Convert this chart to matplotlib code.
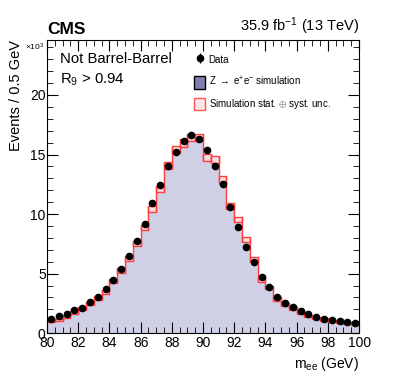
import numpy as np
import matplotlib
matplotlib.use("Agg")
import matplotlib.pyplot as plt
from matplotlib.patches import Rectangle, Patch
from matplotlib.ticker import MultipleLocator

plt.rcParams['font.family'] = ['Liberation Sans', 'DejaVu Sans']
plt.rcParams['mathtext.fontset'] = 'custom'
plt.rcParams['mathtext.rm'] = 'Liberation Sans'
plt.rcParams['mathtext.it'] = 'Liberation Sans'

# 0.5 GeV bins from 80 to 100 GeV, counts in units of 10^3
bin_edges = np.arange(80.0, 100.01, 0.5)
data = [1.19, 1.41, 1.62, 1.91, 2.11, 2.59, 3.07, 3.69, 4.43, 5.40,
        6.44, 7.71, 9.15, 10.9, 12.48, 14.0, 15.2, 16.1, 16.6, 16.3,
        15.4, 14.0, 12.5, 10.6, 8.9, 7.2, 5.97, 4.7, 3.89, 3.03,
        2.55, 2.16, 1.85, 1.57, 1.34, 1.2, 1.09, 0.98, 0.9, 0.82]
mc = [1.07, 1.09, 1.41, 1.72, 2.09, 2.46, 2.94, 3.47, 4.35, 5.25,
      6.24, 7.5, 8.87, 10.4, 12.1, 14.1, 15.45, 15.96, 16.4, 16.45,
      14.75, 14.55, 12.9, 10.7, 9.55, 7.85, 6.2, 4.45, 3.84, 2.88,
      2.44, 2.04, 1.71, 1.43, 1.26, 1.15, 1.03, 0.92, 0.87, 0.78]
mc_unc = [0.10, 0.10, 0.11, 0.12, 0.12, 0.13, 0.14, 0.15, 0.17, 0.19,
          0.20, 0.22, 0.24, 0.26, 0.27, 0.28, 0.30, 0.30, 0.30, 0.30,
          0.29, 0.29, 0.27, 0.26, 0.24, 0.22, 0.20, 0.18, 0.16, 0.14,
          0.13, 0.12, 0.11, 0.10, 0.10, 0.09, 0.09, 0.08, 0.08, 0.08]

data = np.array(data)
mc = np.array(mc)
mc_unc = np.array(mc_unc)
centers = 0.5 * (bin_edges[:-1] + bin_edges[1:])
width = bin_edges[1] - bin_edges[0]

fig = plt.figure(figsize=(3.99, 3.79), dpi=100)
ax = fig.add_axes([0.118, 0.121, 0.782, 0.773])

fill_col = '#cfcfe6'
ax.stairs(mc, bin_edges, fill=True, color=fill_col, lw=0)

# uncertainty boxes
for x0, m, u in zip(bin_edges[:-1], mc, mc_unc):
    ax.add_patch(Rectangle((x0, m - u), width, 2 * u, facecolor='#ffdede',
                           edgecolor='none', alpha=0.9, zorder=2))
    ax.add_patch(Rectangle((x0, m - u), width, 2 * u, facecolor='none',
                           edgecolor='#ff3b3b', lw=1.0, zorder=2))
# vertical connectors between bins
lo = np.minimum(mc[:-1] - mc_unc[:-1], mc[1:] - mc_unc[1:])
hi = np.maximum(mc[:-1] + mc_unc[:-1], mc[1:] + mc_unc[1:])
ax.vlines(bin_edges[1:-1], lo, hi, color='#ff3b3b', lw=1.0, zorder=2)

eb = ax.errorbar(centers, data, yerr=np.sqrt(data * 1000) / 1000, fmt='o',
                 color='black', ms=4.5, lw=1, zorder=3)

ax.set_xlim(80, 100)
ax.set_ylim(0, 24.6)
ax.xaxis.set_major_locator(MultipleLocator(2))
ax.xaxis.set_minor_locator(MultipleLocator(0.5))
ax.yaxis.set_major_locator(MultipleLocator(5))
ax.yaxis.set_minor_locator(MultipleLocator(1))
ax.tick_params(which='both', direction='in', top=True, right=True, labelsize=10)
ax.tick_params(which='major', length=8)
ax.tick_params(which='minor', length=4)
ax.tick_params(axis='x', pad=2)
ax.tick_params(axis='y', pad=1)

ax.set_xlabel(r'm$_{\rm ee}$ (GeV)', fontsize=10, loc='right')
ax.set_ylabel('Events / 0.5 GeV', fontsize=10.5, loc='top', labelpad=5)

ax.text(-0.01, 0.975, r'$\times$10$^{3}$', transform=ax.transAxes, fontsize=6,
        ha='right', va='center')
ax.text(0.0, 1.012, 'CMS', transform=ax.transAxes, fontsize=12.5,
        fontweight='bold', ha='left', va='bottom')
ax.text(1.0, 1.012, r'35.9 fb$^{-1}$ (13 TeV)', transform=ax.transAxes,
        fontsize=10.5, ha='right', va='bottom')
ax.text(0.04, 0.935, 'Not Barrel-Barrel', transform=ax.transAxes, fontsize=10.7,
        ha='left', va='center')
ax.text(0.04, 0.865, r'R$_9$ > 0.94', transform=ax.transAxes, fontsize=10.7,
        ha='left', va='center')

handles = [
    eb,
    Patch(facecolor='#7f7fb3', edgecolor='black', lw=1),
    Patch(facecolor='#ffe6e6', edgecolor='#ff5555', lw=1),
]
labels = ['Data', r'Z $\rightarrow$ e$^{+}$e$^{-}$ simulation',
          r'Simulation stat. $\oplus$ syst. unc.']
ax.legend(handles, labels, loc='upper left', bbox_to_anchor=(0.46, 0.968),
          frameon=False, fontsize=7, handlelength=1.1, handleheight=1.6,
          handletextpad=0.35, labelspacing=0.9, borderaxespad=0)

fig.savefig('out.png', dpi=100)
